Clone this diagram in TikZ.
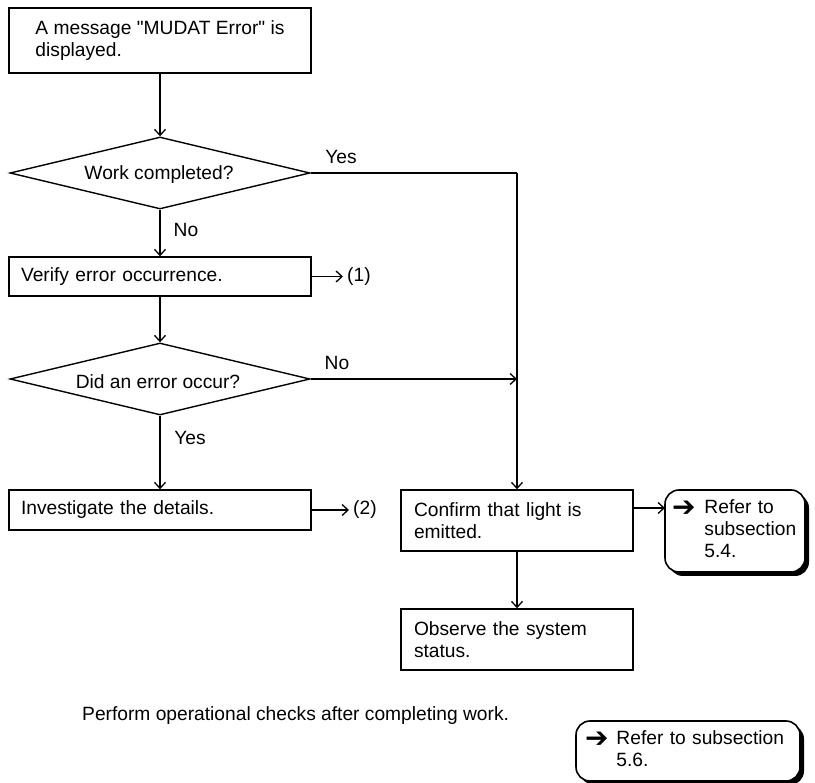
\documentclass[tikz,border=0pt]{standalone}
\usepackage{fontspec}
\setmainfont{Liberation Sans}
\newfontfamily\symfont{DejaVu Sans}
\usetikzlibrary{arrows.meta,shapes.geometric,shadows}

\newcommand{\refarrow}{\raisebox{-3pt}{\symfont\fontsize{28}{22}\selectfont ➔}}

\begin{document}
\begin{tikzpicture}[x=1pt,y=-1pt,
  every node/.style={font=\fontsize{19.2}{22}\selectfont},
  stepbox/.style={draw, line width=1.4pt, rectangle, align=left, inner xsep=12pt, inner ysep=0pt},
  decision/.style={draw, line width=1.4pt, diamond, minimum width=300pt, minimum height=72pt, inner sep=0pt},
  flow/.style={line width=1.3pt, -{Straight Barb[length=6pt,width=11pt,line width=1.3pt]}},
  plain/.style={line width=1.3pt},
  refbox/.style={draw, line width=1.6pt, rounded corners=14pt, fill=white, align=left, inner ysep=0pt,
    drop shadow={shadow xshift=4pt, shadow yshift=-4pt, fill=black, opacity=1}},
  lbl/.style={inner sep=0pt}
]
\useasboundingbox (0,0) rectangle (815,783);
\clip (0,0) rectangle (815,783);

% process steps
\node[stepbox, minimum width=302pt, minimum height=65pt] (msg) at (160,40.5)
  {A message \textquotedbl MUDAT Error\textquotedbl{} is\\displayed.};
\node[decision] (d1) at (160,173) {};
\node[lbl] (q1) at (159,175) {Work completed?};
\node[stepbox, text width=278pt, minimum height=39pt] (verify) at (160,276.5) {Verify error occurrence.};
\node[decision] (d2) at (160,379) {};
\node[lbl] (q2) at (158,382) {Did an error occur?};
\node[stepbox, text width=278pt, minimum height=40pt] (investigate) at (160,510) {Investigate the details.};
\node[stepbox, inner xsep=13pt, text width=206pt, minimum height=61pt] (confirm) at (517,520.5)
  {Confirm that light is\\emitted.};
\node[stepbox, inner xsep=13pt, text width=206pt, minimum height=61pt] (observe) at (517,639.5)
  {Observe the system\\status.};

% references
\node[refbox, inner xsep=7pt, text width=126pt, minimum height=82pt] (ref54) at (735,531)
  {\begin{tabular}{@{}l@{\hspace{9pt}}l@{}}\refarrow&Refer to\\&subsection\\&5.4.\end{tabular}};
\node[refbox, inner xsep=9pt, text width=206pt, minimum height=60pt] (ref56) at (688,751)
  {\begin{tabular}{@{}l@{\hspace{8pt}}l@{}}\refarrow&Refer to subsection\\&5.6.\end{tabular}};

% note
\node[lbl, anchor=west] (note) at (82,716) {Perform operational checks after completing work.};

% branch labels
\node[lbl] (yes1) at (341,157) {Yes};
\node[lbl] (no1) at (186,230) {No};
\node[lbl] (no2) at (337,363) {No};
\node[lbl] (yes2) at (190,438) {Yes};

% free ends
\coordinate (merge) at (517,173);
\coordinate (out1) at (343,276.5);
\coordinate (out2) at (349,510);
\coordinate (in54) at (665,508);
\node[lbl, anchor=west] (mark1) at (347,276.5) {(1)};
\node[lbl, anchor=west] (mark2) at (353,510) {(2)};

% connectors
\draw[flow] (msg.south) -- (d1.north);
\draw[plain] (d1.east) -- (merge);
\draw[flow] (merge) -- (merge |- confirm.north);
\draw[flow] (d1.south) -- (verify.north);
\draw[flow] (verify.east) -- (out1);
\draw[flow] (verify.south) -- (d2.north);
\draw[flow] (d2.east) -- (d2.east -| merge);
\draw[flow] (d2.south) -- (investigate.north);
\draw[flow] (investigate.east) -- (out2);
\draw[flow] (confirm.east |- in54) -- (in54);
\draw[flow] (confirm.south) -- (observe.north);
\end{tikzpicture}
\end{document}
